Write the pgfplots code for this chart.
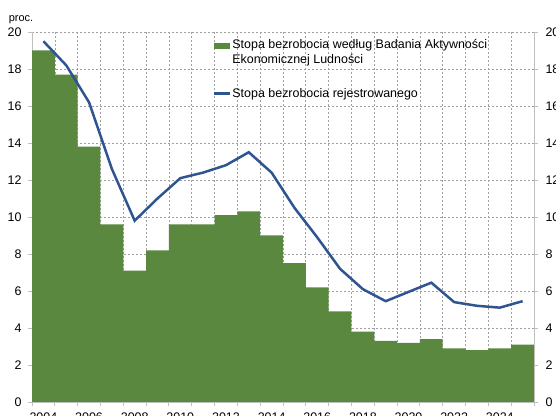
\documentclass[border=0pt]{standalone}
\usepackage{fontspec}
\setmainfont{Liberation Sans}
\usepackage{pgfplots}
\pgfplotsset{compat=1.18}

\definecolor{barGreen}{RGB}{90,136,62}
\definecolor{lineBlue}{RGB}{47,84,146}
\definecolor{axisGray}{RGB}{191,191,191}
\definecolor{gridGray}{RGB}{160,160,160}

\begin{document}
\begin{tikzpicture}
\useasboundingbox (0,0) rectangle (556bp,416bp);
\clip (0,0) rectangle (556bp,416bp);

\begin{axis}[
    at={(32bp,14bp)}, anchor=south west,
    scale only axis,
    width=502bp, height=370bp,
    clip mode=individual,
    xmin=2003.5, xmax=2025.5,
    ymin=0, ymax=20,
    axis x line*=bottom,
    axis y line*=left,
    axis line style={draw=axisGray, line width=1bp, -},
    tick align=outside,
    major tick length=4bp,
    tick style={draw=axisGray, line width=0.8bp},
    xtick={2003.5,2004.5,...,2025.5},
    xticklabels={},
    extra x ticks={2004,2006,...,2024},
    extra x tick style={major tick length=0pt, grid=none,
        xticklabel style={/pgf/number format/1000 sep={}}},
    ytick={0,2,...,20},
    grid=major,
    grid style={draw=gridGray, dash pattern=on 2bp off 2bp, line width=0.6bp},
    ticklabel style={font=\fontsize{12.5}{14}\selectfont},
    /pgf/number format/assume math mode=true,
    yticklabel style={xshift=-3bp},
    xticklabel style={yshift=-7bp},
    legend style={at={(rel axis cs:0.36,0.985)}, anchor=north west,
        draw=none, fill=none, inner sep=0pt,
        font=\fontsize{12.5}{15}\selectfont,
        nodes={inner xsep=1bp},
        cells={align=left}, row sep=19bp},
    legend cell align=left,
]
\addplot[ybar, bar width=1, bar shift=0pt, fill=barGreen, draw=none,
    legend image code/.code={\fill[barGreen] (0bp,4bp) rectangle (16bp,10bp);}]
coordinates {
    (2004,19.0) (2005,17.7) (2006,13.8) (2007,9.6) (2008,7.1) (2009,8.2)
    (2010,9.6) (2011,9.6) (2012,10.1) (2013,10.3) (2014,9.0) (2015,7.5)
    (2016,6.2) (2017,4.9) (2018,3.8) (2019,3.3) (2020,3.2) (2021,3.4)
    (2022,2.9) (2023,2.8) (2024,2.9) (2025,3.1)
};
\addlegendentry{Stopa bezrobocia według Badania Aktywności\\Ekonomicznej Ludności}

\addplot[lineBlue, line width=2.5bp, mark=none,
    legend image code/.code={\draw[lineBlue, line width=2.5bp] (0bp,0bp) -- (16bp,0bp);}]
coordinates {
    (2004,19.5) (2005,18.2) (2006,16.2) (2007,12.6) (2008,9.8) (2009,11.0)
    (2010,12.1) (2011,12.4) (2012,12.8) (2013,13.5) (2014,12.4) (2015,10.5)
    (2016,8.9) (2017,7.2) (2018,6.1) (2019,5.45) (2020,5.95) (2021,6.45)
    (2022,5.4) (2023,5.2) (2024,5.1) (2025,5.45)
};
\addlegendentry{Stopa bezrobocia rejestrowanego}

\node[font=\fontsize{11}{12}\selectfont, anchor=south]
    at (rel axis cs:-0.022,1.012) {proc.};
\end{axis}

% right-hand axis with the same scale
\begin{axis}[
    at={(32bp,14bp)}, anchor=south west,
    scale only axis,
    width=502bp, height=370bp,
    xmin=2003.5, xmax=2025.5,
    ymin=0, ymax=20,
    axis x line=none,
    axis y line*=right,
    axis line style={draw=axisGray, line width=1bp, -},
    tick align=outside,
    major tick length=4bp,
    tick style={draw=axisGray, line width=0.8bp},
    ytick={0,2,...,20},
    ticklabel style={font=\fontsize{12.5}{14}\selectfont},
    /pgf/number format/assume math mode=true,
    yticklabel style={xshift=4bp},
]
\addplot[draw=none] coordinates {(2004,0) (2025,20)};
\end{axis}
\end{tikzpicture}
\end{document}
